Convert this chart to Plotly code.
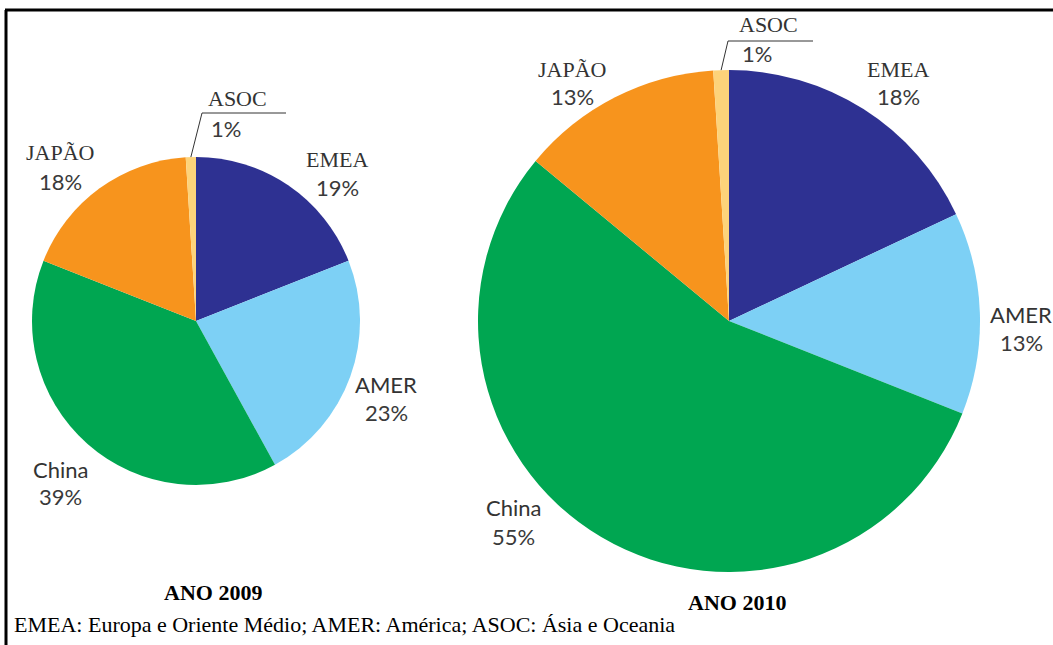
import math
import plotly.graph_objects as go

W, H = 1053, 645

# data
regions = ["EMEA", "AMER", "China", "JAPÃO", "ASOC"]
share_2009 = [19, 23, 39, 18, 1]
share_2010 = [18, 13, 55, 13, 1]
years = ["ANO 2009", "ANO 2010"]
footnote = "EMEA: Europa e Oriente Médio; AMER: América; ASOC: Ásia e Oceania"

colors = ["#2e3192", "#7dd0f5", "#00a651", "#f7941d", "#fdd37a"]
serif_names = {"EMEA", "JAPÃO", "ASOC"}


def px(x, y):
    # pixel -> paper coords
    return x / W, 1 - y / H


# pie geometry in pixels: centre x, centre y, radius
pies = [
    dict(cx=196, cy=321, r=164, values=share_2009),
    dict(cx=729, cy=321, r=251, values=share_2010),
]

# label placement (pixels): name x, name y, pct y, anchor
label_pos = [
    {
        "EMEA": (337, 159, 188, "center"),
        "AMER": (386, 384, 412, "center"),
        "China": (60, 469, 497, "center"),
        "JAPÃO": (60, 152, 182, "center"),
        "ASOC": (206, 99, 129, "left"),
    },
    {
        "EMEA": (898, 70, 97, "center"),
        "AMER": (1021, 314, 342, "center"),
        "China": (513, 507, 536, "center"),
        "JAPÃO": (572, 70, 97, "center"),
        "ASOC": (737, 24, 54, "left"),
    },
]
# leader line for ASOC: bend point and end x (pixels)
leaders = [(202, 113, 286), (728, 41, 813)]
title_pos = [(213, 592), (737, 602)]

fig = go.Figure()
annotations = []
shapes = []

for i, p in enumerate(pies):
    x0, y1 = px(p["cx"] - p["r"], p["cy"] - p["r"])
    x1, y0 = px(p["cx"] + p["r"], p["cy"] + p["r"])
    fig.add_trace(go.Pie(
        labels=regions,
        values=p["values"],
        sort=False,
        direction="clockwise",
        rotation=0,
        marker=dict(colors=colors, line=dict(width=0)),
        textinfo="none",
        hoverinfo="label+percent",
        domain=dict(x=[x0, x1], y=[y0, y1]),
        showlegend=False,
    ))

    for name, val in zip(regions, p["values"]):
        nx, ny, py_, anchor = label_pos[i][name]
        font_name = dict(family="Liberation Serif" if name in serif_names else "Lato",
                         size=22, color="#333333")
        ax, ay = px(nx, ny)
        annotations.append(dict(x=ax, y=ay, xref="paper", yref="paper", text=name,
                                showarrow=False, xanchor=anchor, yanchor="middle",
                                font=font_name))
        ax, ay = px(nx + (3 if anchor == "left" else 0), py_)
        annotations.append(dict(x=ax, y=ay, xref="paper", yref="paper", text=f"{val}%",
                                showarrow=False, xanchor=anchor, yanchor="middle",
                                font=dict(family="Lato", size=22, color="#3a3a3a")))

    # leader line from the middle of the ASOC slice
    total = sum(p["values"])
    start = sum(p["values"][:-1]) / total
    mid = (start + p["values"][-1] / total / 2) * 2 * math.pi
    sx = p["cx"] + p["r"] * math.sin(mid)
    sy = p["cy"] - p["r"] * math.cos(mid)
    bx, by, ex = leaders[i]
    pts = [px(sx, sy), px(bx, by), px(ex, by)]
    path = "M {} {} L {} {} L {} {}".format(*[c for pt in pts for c in pt])
    shapes.append(dict(type="path", xref="paper", yref="paper", path=path,
                       line=dict(color="#333333", width=1)))

    tx, ty = px(*title_pos[i])
    annotations.append(dict(x=tx, y=ty, xref="paper", yref="paper",
                            text=f"<b>{years[i]}</b>", showarrow=False,
                            xanchor="center", yanchor="middle",
                            font=dict(family="Liberation Serif", size=22, color="black")))

fx, fy = px(12, 624)
annotations.append(dict(x=fx, y=fy, xref="paper", yref="paper", text=footnote,
                        showarrow=False, xanchor="left", yanchor="middle",
                        font=dict(family="Liberation Serif", size=22, color="black")))

# frame on the left and top
shapes.append(dict(type="line", xref="paper", yref="paper",
                   x0=6 / W, x1=6 / W, y0=0, y1=1 - 10 / H,
                   line=dict(color="black", width=3)))
shapes.append(dict(type="line", xref="paper", yref="paper",
                   x0=5 / W, x1=1, y0=1 - 10 / H, y1=1 - 10 / H,
                   line=dict(color="black", width=3)))

fig.update_layout(
    width=W, height=H,
    margin=dict(l=0, r=0, t=0, b=0),
    paper_bgcolor="white",
    plot_bgcolor="white",
    annotations=annotations,
    shapes=shapes,
)

# drop the default page margin so the figure fills the window
fig.write_html("out.html", config={"displayModeBar": False},
               post_script="document.body.style.margin='0';")
